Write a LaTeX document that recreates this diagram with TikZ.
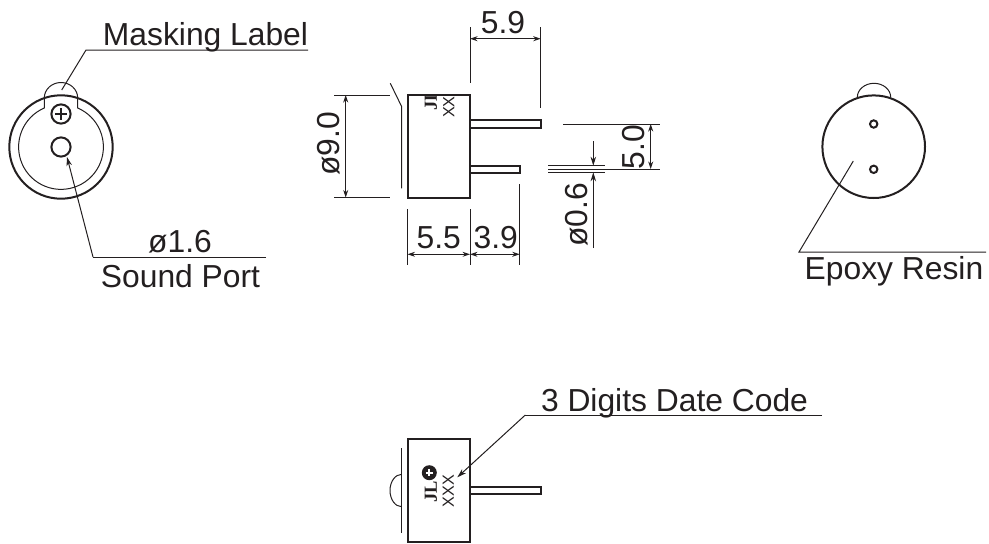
\documentclass[tikz,border=0pt]{standalone}
\usepackage{fontspec}
\setmainfont{Liberation Sans}
\newfontfamily\jlfont{Liberation Serif}
\usetikzlibrary{arrows.meta}
\definecolor{inkblack}{RGB}{35, 31, 32}

\tikzset{
  thinline/.style={draw=inkblack, line width=0.2mm},
  bodyline/.style={draw=inkblack, line width=0.4mm},
  dimline/.style={draw=inkblack, line width=0.2mm, {Stealth[length=1.5mm, width=1mm]}-{Stealth[length=1.5mm, width=1mm]}},
  leadarrow/.style={draw=inkblack, line width=0.2mm, -{Stealth[length=1.8mm, width=1.1mm]}},
  biglabel/.style={font=\fontsize{18.1}{20}\selectfont, text=inkblack, inner sep=0pt, anchor=base},
  sidelabel/.style={biglabel, rotate=90},
  xmark/.style={font=\fontsize{9.2}{10}\selectfont, text=inkblack, inner sep=0pt, rotate=90},
  jlmark/.style={font=\jlfont\bfseries\fontsize{10.5}{11}\selectfont, text=inkblack, inner sep=0pt, rotate=90},
}

\begin{document}
\begin{tikzpicture}[x=0.2mm, y=-0.2mm]
  \useasboundingbox (0, 0) rectangle (989, 543);

  % Left view
  \draw[bodyline] (61, 147) circle (51.7);
  \draw[thinline] (44.3, 98) -- (44.3, 108) arc[start angle=246.8, end angle=-66.8, radius=42.4] -- (77.7, 98);
  \draw[thinline] (44.3, 98) arc[start angle=180, end angle=360, x radius=16.7, y radius=15.5];
  \draw[bodyline] (61, 114) circle (9.6);
  \draw[bodyline] (61, 147) circle (9.6);
  \draw[bodyline] (55, 114) -- (67, 114) (61, 108) -- (61, 120);

  % Masking label
  \node[biglabel] (masklabel) at (205.5, 45) {Masking Label};
  \coordinate (masktip) at (61.7, 90);
  \coordinate (maskknee) at (86, 50);
  \coordinate (maskend) at (308, 50);
  \draw[thinline] (masktip) -- (maskknee) -- (maskend);

  % Sound port
  \node[biglabel] (portsize) at (180, 252) {ø1.6};
  \node[biglabel] (portlabel) at (180.5, 287) {Sound Port};
  \coordinate (porttip) at (67, 157);
  \coordinate (portknee) at (93, 257);
  \coordinate (portend) at (266, 257);
  \draw[thinline] (portend) -- (portknee);
  \draw[leadarrow] (portknee) -- (porttip);

  % Side view
  \begin{scope}
    \clip (407.5, 96) rectangle (470, 197);
    \node[jlmark] (sidejl) at (431, 100) {JL};
  \end{scope}
  \draw[bodyline] (407.5, 95) rectangle (470, 197.5);
  \draw[thinline] (390.3, 83.3) -- (401.7, 106.7) -- (401.7, 188.3);
  \draw[bodyline] (470, 120) rectangle (540.5, 127.7);
  \draw[bodyline] (470, 165.7) rectangle (520, 173);
  \node[xmark] (sidexx) at (448.8, 107) {XX};

  % 5.9
  \node[biglabel] (dimtop) at (503, 33) {5.9};
  \draw[thinline] (470, 27) -- (470, 83) (540.7, 27) -- (540.7, 108);
  \draw[dimline] (470, 38.7) -- (540.7, 38.7);

  % 9.0
  \node[sidelabel, anchor=base] (dimdia) at (339, 143.7) {ø9.0};
  \draw[thinline] (334, 95) -- (390, 95) (334, 197.5) -- (390, 197.5);
  \draw[dimline] (345.7, 95) -- (345.7, 197.5);

  % 5.5 and 3.9
  \node[biglabel] (dimbody) at (438.8, 248) {5.5};
  \node[biglabel] (dimpin) at (495.8, 248) {3.9};
  \draw[thinline] (407.5, 209) -- (407.5, 265) (470, 209) -- (470, 265) (519.7, 184) -- (519.7, 265);
  \draw[dimline] (407.5, 254.3) -- (470, 254.3);
  \draw[dimline] (470, 254.3) -- (519.7, 254.3);

  % 5.0
  \node[sidelabel, anchor=base] (dimpitch) at (644, 147) {5.0};
  \draw[thinline] (563, 124) -- (660, 124) (548, 169) -- (660, 169);
  \draw[dimline] (650.7, 124) -- (650.7, 169);

  % 0.6
  \node[sidelabel, anchor=base] (dimwire) at (587, 214.7) {ø0.6};
  \draw[thinline] (548, 165.7) -- (605, 165.7) (548, 172.3) -- (605, 172.3);
  \draw[leadarrow] (593.3, 141) -- (593.3, 165.7);
  \draw[leadarrow] (593.3, 248) -- (593.3, 172.3);

  % Right view
  \draw[bodyline] (873.7, 146.7) circle (51.3);
  \draw[thinline] (857.3, 97.3) arc[start angle=180, end angle=360, x radius=16.7, y radius=14];
  \draw[bodyline] (873.7, 124) circle (3.7);
  \draw[bodyline] (873.7, 169.3) circle (3.7);

  % Epoxy resin
  \node[biglabel] (resinlabel) at (894, 279) {Epoxy Resin};
  \coordinate (resintip) at (853.3, 161);
  \coordinate (resinknee) at (799, 252);
  \coordinate (resinend) at (986, 252);
  \draw[thinline] (resintip) -- (resinknee) -- (resinend);

  % Bottom view
  \draw[bodyline] (407.5, 439.3) rectangle (470, 541.7);
  \draw[thinline] (401.7, 448.3) -- (401.7, 532.7);
  \draw[thinline] (401.7, 474.3) arc[start angle=270, end angle=90, x radius=11.7, y radius=16.2];
  \draw[bodyline] (470, 486.7) rectangle (540.5, 494);
  \node[circle, fill=inkblack, minimum size=3mm, inner sep=0pt] (logodot) at (429.3, 472.7) {};
  \draw[white, line width=0.45mm] (425.8, 472.7) -- (432.8, 472.7) (429.3, 469.2) -- (429.3, 476.2);
  \node[jlmark] (bottomjl) at (431, 491.7) {JL};
  \node[xmark] (bottomxxx) at (448.3, 491.3) {XXX};

  % Date code
  \node[biglabel] (datelabel) at (674.5, 411) {3 Digits Date Code};
  \coordinate (dateend) at (822, 415);
  \coordinate (dateknee) at (525.3, 415);
  \coordinate (datetip) at (457.3, 477.3);
  \draw[thinline] (dateend) -- (dateknee);
  \draw[leadarrow] (dateknee) -- (datetip);
\end{tikzpicture}
\end{document}
